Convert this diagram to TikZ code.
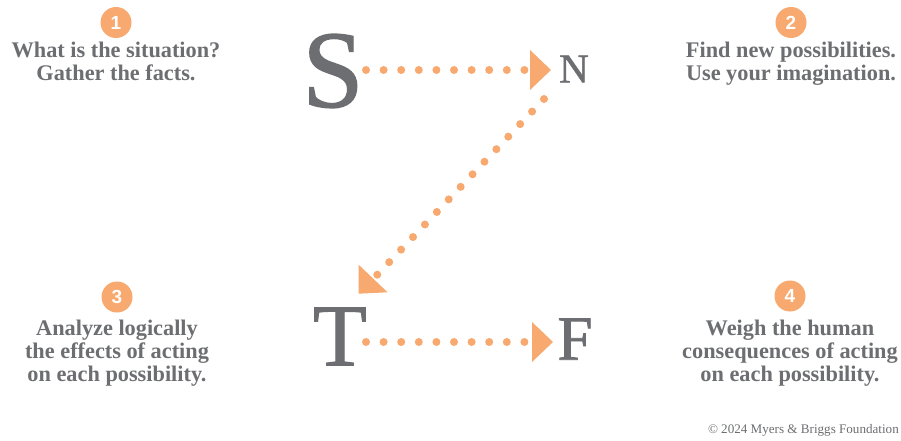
\documentclass[tikz,border=0pt]{standalone}
\usepackage{fontspec}
\setmainfont{Liberation Serif}
\setsansfont{Liberation Sans}
\newfontfamily\zbig[FakeBold=1.2]{Liberation Serif}
\usetikzlibrary{calc}
\definecolor{zgray}{HTML}{6D6E71}
\definecolor{zorange}{HTML}{F7A96F}
\tikzset{
  badge/.style={circle,fill=zorange,minimum size=31pt,inner sep=0pt,text=white,font=\sffamily\bfseries\fontsize{19}{19}\selectfont},
  desc/.style={align=center,text=zgray,inner sep=0pt,font=\bfseries\fontsize{22.3}{23.3}\selectfont},
  letter/.style={text=zgray,inner sep=0pt},
  dotline/.style={draw=zorange,line width=8pt,line cap=round,dash pattern=on 0pt off 17.6pt},
  tipfill/.style={fill=zorange},
}
\newcommand{\ztip}[2]{% #1 tip, #2 point on line behind
  \fill[tipfill] (#1) -- ($($(#1)!21pt!(#2)$)!20pt!90:(#1)$) -- ($($(#1)!21pt!(#2)$)!20pt!-90:(#1)$) -- cycle;}
\begin{document}
\begin{tikzpicture}[x=1pt,y=-1pt]
\useasboundingbox[fill=white] (0,0) rectangle (901,441);
% badges
\node[badge] (b1) at (116,22.5) {1};
\node[badge] (b2) at (791,22.5) {2};
\node[badge] (b3) at (117,297) {3};
\node[badge] (b4) at (790,296) {4};
% descriptions
\node[desc,anchor=north] (d1) at (116,42) {What is the situation?\\Gather the facts.};
\node[desc,anchor=north] (d2) at (791,42) {Find new possibilities.\\Use your imagination.};
\node[desc,anchor=north] (d3) at (117,319.5) {Analyze logically\\the effects of acting\\on each possibility.};
\node[desc,anchor=north] (d4) at (790,319.5) {Weigh the human\\consequences of acting\\on each possibility.};
% letters
\node[letter,font=\zbig\fontsize{110}{110}\selectfont] (S) at (333,71) {S};
\node[letter,font=\zbig\fontsize{41}{41}\selectfont] (N) at (574,69) {N};
\node[letter,font=\zbig\fontsize{88}{88}\selectfont] (T) at (340,336.5) {T};
\node[letter,font=\zbig\fontsize{63}{63}\selectfont] (F) at (575,339) {F};
% connector coordinates
\coordinate (sn0) at (366,70);
\coordinate (sn1) at (525,70);
\coordinate (snt) at (551,70);
\coordinate (nt0) at (544,99);
\coordinate (nt1) at (377,275);
\coordinate (ntt) at (358.6,293.7);
\coordinate (tf0) at (366,342);
\coordinate (tf1) at (525,342);
\coordinate (tft) at (553,342);
% connectors
\draw[dotline] (sn0) -- (sn1);
\ztip{snt}{sn0}
\draw[dotline,dash pattern=on 0pt off 17.3pt] (nt0) -- (nt1);
\ztip{ntt}{nt0}
\draw[dotline] (tf0) -- (tf1);
\ztip{tft}{tf0}
% copyright
\node[text=zgray,inner sep=0pt,anchor=east,font=\fontsize{13.1}{14}\selectfont] (copy) at (899,430) {© 2024 Myers \& Briggs Foundation};
\end{tikzpicture}
\end{document}
